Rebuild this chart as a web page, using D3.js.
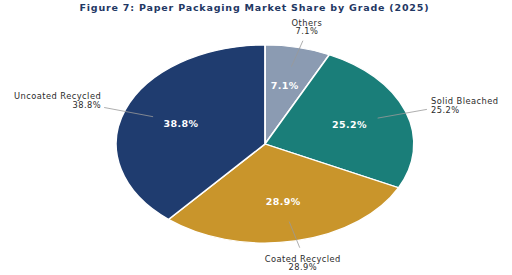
<!DOCTYPE html>
<html>
<head>
<meta charset="utf-8">
<script src="https://cdn.jsdelivr.net/npm/d3@7"></script>
<style>
  body { margin: 0; background: #fff; }
  text { font-family: "DejaVu Sans", Verdana, sans-serif; }
</style>
</head>
<body>
<div id="chart"></div>
<script>
// data
var grades = ["Others", "Solid Bleached", "Coated Recycled", "Uncoated Recycled"];
var shares = [7.1, 25.2, 28.9, 38.8];
var colors = ["#8b9bb2", "#1a7e79", "#c9952b", "#1f3c6f"];

var width = 512, height = 275;
var cx = 265, cy = 144, rx = 149, ry = 99;

var svg = d3.select("#chart").append("svg")
    .attr("width", width)
    .attr("height", height);

svg.append("text")
    .attr("x", 254)
    .attr("y", 11)
    .attr("text-anchor", "middle")
    .attr("font-size", 9.5)
    .attr("font-weight", "bold")
    .attr("fill", "#1f3864")
    .attr("textLength", 349)
    .attr("lengthAdjust", "spacing")
    .text("Figure 7: Paper Packaging Market Share by Grade (2025)");

var data = grades.map(function(g, i) {
    return {grade: g, value: shares[i], color: colors[i]};
});

var pie = d3.pie()
    .sort(null)
    .value(function(d) { return d.value; });

var arcs = pie(data);

var arc = d3.arc()
    .innerRadius(0)
    .outerRadius(rx);

// pie is squashed vertically to an ellipse
var pieG = svg.append("g")
    .attr("transform", "translate(" + cx + "," + cy + ") scale(1," + (ry / rx) + ")");

pieG.selectAll("path")
    .data(arcs)
    .enter()
    .append("path")
    .attr("d", arc)
    .attr("fill", function(d) { return d.data.color; })
    .attr("stroke", "#fff")
    .attr("stroke-width", 1.8);

function mid(d) { return (d.startAngle + d.endAngle) / 2; }
function px(d, f) { return cx + f * rx * Math.sin(mid(d)); }
function py(d, f) { return cy - f * ry * Math.cos(mid(d)); }

var fmt = function(v) { return v.toFixed(1) + "%"; };

// inner percentages
svg.selectAll(".inner")
    .data(arcs)
    .enter()
    .append("text")
    .attr("class", "inner")
    .attr("x", function(d) { return px(d, 0.6); })
    .attr("y", function(d) { return py(d, 0.6) + 3; })
    .attr("text-anchor", "middle")
    .attr("font-size", 9.5)
    .attr("font-weight", "bold")
    .attr("letter-spacing", 0.4)
    .attr("fill", "#fff")
    .text(function(d) { return fmt(d.data.value); });

// leader lines
function endX(d) { return cx + 1.15 * rx * Math.sin(mid(d)); }
function endY(d) { return cy - 1.07 * ry * Math.cos(mid(d)); }

svg.selectAll(".leader")
    .data(arcs)
    .enter()
    .append("line")
    .attr("class", "leader")
    .attr("x1", function(d) { return px(d, 0.8); })
    .attr("y1", function(d) { return py(d, 0.8); })
    .attr("x2", endX)
    .attr("y2", endY)
    .attr("stroke", "#999")
    .attr("stroke-width", 0.8);

// outer labels
var outer = svg.selectAll(".outer")
    .data(arcs)
    .enter()
    .append("text")
    .attr("class", "outer")
    .attr("font-size", 8.3)
    .attr("letter-spacing", 0.45)
    .attr("fill", "#2b2b2b")
    .attr("text-anchor", function(d) {
        var s = Math.sin(mid(d));
        return s > 0.5 ? "start" : (s < -0.5 ? "end" : "middle");
    })
    .attr("transform", function(d) {
        var s = Math.sin(mid(d)), c = Math.cos(mid(d));
        var x = endX(d), y = endY(d);
        if (s > 0.5) { x += 4; y -= 5; }
        else if (s < -0.5) { x -= 3; y -= 8; }
        else if (c > 0) { x += 4; y -= 15; }
        else { x += 3; y += 14; }
        return "translate(" + x + "," + y + ")";
    });

outer.append("tspan")
    .attr("x", 0)
    .attr("y", 0)
    .text(function(d) { return d.data.grade; });

outer.append("tspan")
    .attr("x", 0)
    .attr("y", 8.5)
    .text(function(d) { return fmt(d.data.value); });
</script>
</body>
</html>
